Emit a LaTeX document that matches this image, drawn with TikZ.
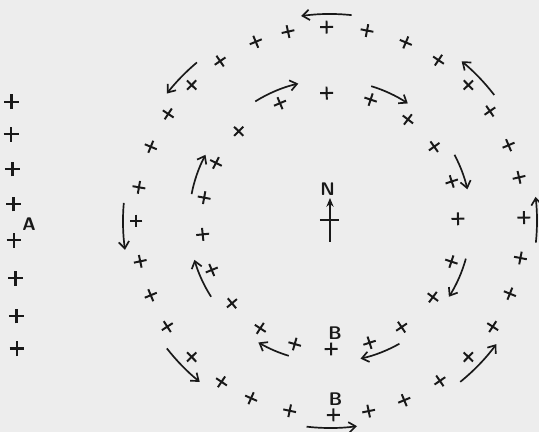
\documentclass[tikz,border=0pt]{standalone}
\usepackage{tikz}
\usetikzlibrary{arrows.meta,shapes.misc}

\begin{document}
\begin{tikzpicture}[
  every node/.style={font=\sffamily\bfseries\fontsize{13}{15}\selectfont, text=black!90},
  paper/.style={fill=black!7},
  xmark/.style={draw=black!90, cross out, line width=1.4pt, minimum size=.18cm, inner sep=0pt},
  pmark/.style={xmark, line width=1.8pt, minimum size=.2cm},
  flow/.style={black!90, line width=1.2pt, -{Straight Barb[length=1.7mm,width=2.6mm]}}
]
\useasboundingbox (-8.25,-5.275) rectangle (5.225,5.525);
\fill[paper] (-8.25,-5.275) rectangle (5.225,5.525);
\coordinate (O) at (0,0);
% outer ring, each cross turned with its angle
\foreach \a [count=\i] in {102.5,91,79,67,56,44.5,34.5,23,13,1,-11,-22,-33,-44.5,-55.5,-67.5,-78.5,-89,-102,-114,-124,-135.5,-147,-157.5,-168,180,170,157.5,146.5,135.5,124.5,112.5}
  \node[xmark, rotate=\a+45] (o\i) at (\a:4.85) {};
% inner ring
\foreach \a [count=\i] in {91.5,71.5,52.5,35.5,18,1,-18.5,-36.5,-56,-72,-89.5,-106,-123,-140,-157.5,-174,169.5,153,135.5,113}
  \node[xmark, rotate=\a+45] (n\i) at (\a:3.2) {};
% column A
\foreach \p [count=\i] in {(-7.96,2.98),(-7.97,2.17),(-7.94,1.3),(-7.91,.425),(-7.9,-.48),(-7.86,-1.43),(-7.84,-2.375),(-7.825,-3.19)}
  \node[pmark, rotate=45] (a\i) at \p {};
% outer flow goes round one way, inner flow the other
\foreach \s/\e in {84/98,130/142,175/188,218/231,263.5/277.5,309/323.5,-6/6.7,37.5/50.5}
  \draw[flow] (\s:5.175) arc (\s:\e:5.175);
\foreach \s/\e in {122/103,73/56.5,28/13,-15.5/-32.5,-60.5/-77.5,-107/-120.5,-147.5/-164,169/152}
  \draw[flow] (\s:3.525) arc (\s:\e:3.525);
% compass
\coordinate (ctail) at (0,-.525);
\coordinate (chead) at (0,.575);
\coordinate (barL) at (-.25,.025);
\coordinate (barR) at (.225,.025);
\draw[black!90, line width=1pt, -{Stealth[length=2.2mm,width=1.8mm]}] (ctail) -- (chead);
\draw[black!90, line width=1pt] (barL) -- (barR);
\node (north) at (-.06,.8) {N};
\node (labA) at (-7.52,-.09) {A};
\node (labB) at (.125,-2.81) {B};
\node (labBB) at (.14,-4.46) {B};
\end{tikzpicture}
\end{document}
